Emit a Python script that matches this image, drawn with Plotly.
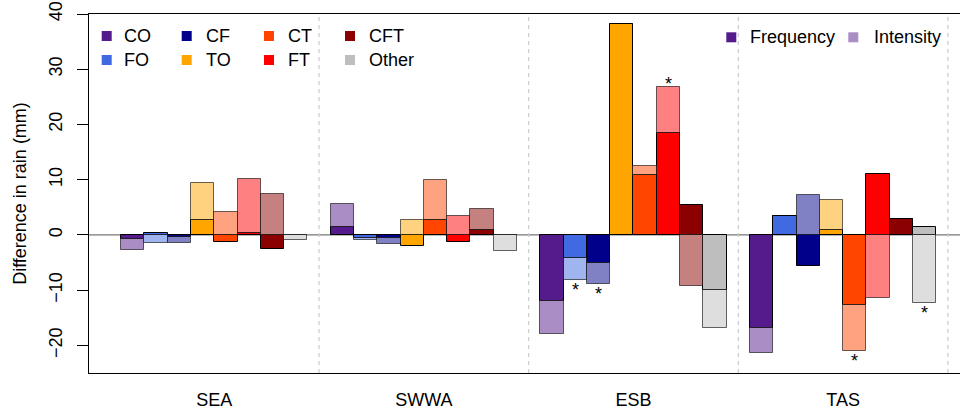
import plotly.graph_objects as go

regions = ["SEA", "SWWA", "ESB", "TAS"]
categories = ["CO", "FO", "CF", "TO", "CT", "FT", "CFT", "Other"]

# Frequency (dark) and intensity (light) contributions, mm
freq = {
    "SEA":  [-0.7, 0.3, -0.3, 2.7, -1.3, 0.4, -2.5, -0.1],
    "SWWA": [1.4, -0.5, -0.6, -2.0, 2.7, -1.3, 0.85, -0.1],
    "ESB":  [-11.9, -4.2, -5.0, 38.1, 10.9, 18.5, 5.5, -10.0],
    "TAS":  [-16.9, 3.4, -5.6, 0.85, -12.6, 11.1, 2.9, 1.45],
}
inten = {
    "SEA":  [-2.1, -1.5, -1.1, 6.7, 4.1, 9.7, 7.5, -0.9],
    "SWWA": [4.2, -0.4, -1.0, 2.7, 7.2, 3.4, 3.8, -2.9],
    "ESB":  [-6.0, -3.95, -3.8, 0.0, 1.5, 8.2, -9.3, -6.9],
    "TAS":  [-4.4, 0.0, 7.2, 5.45, -8.5, -11.5, 0.0, -12.4],
}
significant = [("ESB", "FO"), ("ESB", "CF"), ("ESB", "FT"), ("TAS", "CT"), ("TAS", "Other")]

dark_colors = ["#551A8B", "#4169E1", "#00008B", "#FFA500", "#FF4500", "#FF0000", "#8B0000", "#BEBEBE"]
light_colors = ["#AA8DC5", "#A0B4F0", "#8080C5", "#FFD280", "#FFA280", "#FF8080", "#C58080", "#DEDEDE"]

y_ticks = [-20, -10, 0, 10, 20, 30, 40]

FONT = "Liberation Sans, Arial, Helvetica, sans-serif"
GW = len(categories) + 1  # group width in x units

xs, fvals, ivals, dcols, lcols = [], [], [], [], []
for g, r in enumerate(regions):
    for i, c in enumerate(categories):
        xs.append(g * GW + i + 1)
        fvals.append(freq[r][i])
        ivals.append(inten[r][i])
        dcols.append(dark_colors[i])
        lcols.append(light_colors[i])

fig = go.Figure()
fig.add_trace(go.Bar(x=xs, y=fvals, width=1, marker=dict(color=dcols, line=dict(color="black", width=1)),
                     name="Frequency", showlegend=False))
fig.add_trace(go.Bar(x=xs, y=ivals, width=1, marker=dict(color=lcols, line=dict(color="rgba(0,0,0,0.6)", width=1)),
                     name="Intensity", showlegend=False))

W, H = 960, 410
L, R, T, B = 89, 0, 14, 37
PW, PH = W - L - R, H - T - B


def px(x):
    return (x - L) / PW


def py(y):
    return (H - B - y) / PH


shapes = []
# zero line
shapes.append(dict(type="line", xref="paper", x0=0, x1=1, yref="y", y0=0, y1=0,
                   line=dict(color="#555555", width=1), layer="below"))
# group separators
for g in range(1, len(regions) + 1):
    shapes.append(dict(type="line", xref="x", x0=g * GW, x1=g * GW, yref="paper", y0=0, y1=1,
                       line=dict(color="#CCCCCC", width=1.2, dash="4px,4px"), layer="below"))

annotations = []
# significance stars
for r, c in significant:
    g = regions.index(r)
    i = categories.index(c)
    f, v = freq[r][i], inten[r][i]
    pos = sum(t for t in (f, v) if t > 0)
    neg = sum(t for t in (f, v) if t < 0)
    if f + v >= 0:
        yv, shift = pos, 3
    else:
        yv, shift = neg, -10
    annotations.append(dict(x=g * GW + i + 1, y=yv, xref="x", yref="y", text="*", showarrow=False,
                            yanchor="middle", yshift=shift, font=dict(size=18, color="black", family=FONT)))

# category legend (4 columns x 2 rows)
leg_sq_x = [106.7, 186.7, 269, 350]
leg_tx_x = [122, 204, 286, 367]
leg_rows = [36, 60]
for k, c in enumerate(categories):
    col, row = k // 2, k % 2
    cx, cy = leg_sq_x[col], leg_rows[row]
    shapes.append(dict(type="rect", xref="paper", yref="paper", x0=px(cx - 5), x1=px(cx + 5),
                       y0=py(cy + 5), y1=py(cy - 5), fillcolor=dark_colors[k], line=dict(width=0)))
    annotations.append(dict(x=px(leg_tx_x[col]), y=py(cy), xref="paper", yref="paper", text=c,
                            showarrow=False, xanchor="left", yanchor="middle",
                            font=dict(size=18, color="black", family=FONT)))

# frequency / intensity legend
for cx, tx, txt, col in [(731.3, 748, "Frequency", dark_colors[0]), (853.3, 872, "Intensity", light_colors[0])]:
    cy = 37.3
    shapes.append(dict(type="rect", xref="paper", yref="paper", x0=px(cx - 5), x1=px(cx + 5),
                       y0=py(cy + 5), y1=py(cy - 5), fillcolor=col, line=dict(width=0)))
    annotations.append(dict(x=px(tx), y=py(cy), xref="paper", yref="paper", text=txt,
                            showarrow=False, xanchor="left", yanchor="middle",
                            font=dict(size=18, color="black", family=FONT)))

fig.update_layout(
    width=W, height=H,
    margin=dict(l=L, r=R, t=T, b=B, pad=0),
    paper_bgcolor="white", plot_bgcolor="white",
    barmode="relative", bargap=0,
    font=dict(family=FONT, size=18, color="black"),
    showlegend=False,
    shapes=shapes, annotations=annotations,
    xaxis=dict(range=[-0.876, 36.52], tickmode="array",
               tickvals=[g * GW + GW / 2 for g in range(len(regions))], ticktext=regions,
               ticks="", showgrid=False, zeroline=False, showline=True, mirror=True,
               linecolor="black", linewidth=1, ticklabelstandoff=10,
               tickfont=dict(size=18, family=FONT, color="black")),
    yaxis=dict(range=[-25, 40], tickmode="array", tickvals=y_ticks, ticktext=[str(v).replace("-", "\u2212") for v in y_ticks],
               tickangle=-90, ticks="outside", ticklen=11, tickcolor="black", tickwidth=1,
               showgrid=False, zeroline=False, showline=True, linecolor="black", linewidth=1,
               ticklabelstandoff=8,
               tickfont=dict(size=18, family=FONT, color="black"),
               title=dict(text="Difference in rain (mm)", standoff=14,
                          font=dict(size=18, family=FONT, color="black"))),
)

fig.write_html("out.html", config={"displayModeBar": False},
               post_script="document.body.style.margin='0';document.body.style.padding='0';")
